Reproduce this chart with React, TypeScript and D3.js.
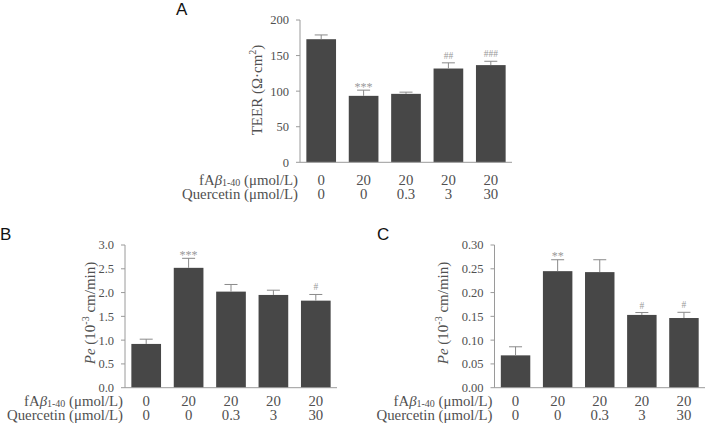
import React from "react";
import * as d3 from "d3";

const fabLabels = ["0", "20", "20", "20", "20"];
const quercetinLabels = ["0", "0", "0.3", "3", "30"];

const teerMean = [173, 93.4, 96.2, 131.8, 136.6];
const teerErr = [6, 8, 2.4, 8, 5.4];
const teerSig = ["", "***", "", "##", "###"];
const teerTicks = [0, 50, 100, 150, 200];

const peBMean = [0.92, 2.52, 2.02, 1.95, 1.83];
const peBErr = [0.1, 0.2, 0.15, 0.1, 0.13];
const peBSig = ["", "***", "", "", "#"];
const peBTicks = [0, 0.5, 1.0, 1.5, 2.0, 2.5, 3.0];

const peCMean = [0.068, 0.245, 0.243, 0.153, 0.1465];
const peCErr = [0.018, 0.024, 0.026, 0.005, 0.012];
const peCSig = ["", "**", "", "#", "#"];
const peCTicks = [0, 0.05, 0.1, 0.15, 0.2, 0.25, 0.3];

const SERIF = "'Liberation Serif', 'Times New Roman', serif";
const SANS = "'Liberation Sans', Arial, sans-serif";
const BAR = "#474747";
const AXIS = "#9a9a9a";
const ERR = "#8a8a8a";
const TXT = "#505050";
const ROWFS = 14.8;

type PanelProps = {
  x0: number; x1: number; y0: number; yTop: number;
  max: number; ticks: number[]; fmt: string;
  means: number[]; errs: number[]; sig: string[];
  ylabel: React.ReactNode; ylabelX: number; ylabelY: number;
  letter: string; letterX: number; letterY: number;
  row1: number; row2: number;
};

function Panel(p: PanelProps) {
  const x = d3.scaleBand<string>()
    .domain(p.means.map((_, i) => String(i)))
    .range([p.x0, p.x1])
    .paddingInner(0.3)
    .paddingOuter(0.15);
  const y = d3.scaleLinear().domain([0, p.max]).range([p.y0, p.yTop]);
  const f = d3.format(p.fmt);
  const bw = x.bandwidth();
  return (
    <g>
      <text x={p.letterX} y={p.letterY} fontFamily={SANS} fontSize={17} fill="#111">{p.letter}</text>
      {p.means.map((m, i) => {
        const bx = x(String(i))!;
        return <rect key={"b" + i} x={bx} y={y(m)} width={bw} height={p.y0 - y(m)} fill={BAR} />;
      })}
      {p.means.map((m, i) => {
        const cx = x(String(i))! + bw / 2;
        const top = y(m + p.errs[i]);
        return (
          <g key={"e" + i} stroke={ERR} strokeWidth={1}>
            <line x1={cx} x2={cx} y1={y(m)} y2={top} />
            <line x1={cx - 6.5} x2={cx + 6.5} y1={top} y2={top} />
          </g>
        );
      })}
      {p.sig.map((s, i) => {
        if (!s) return null;
        const cx = x(String(i))! + bw / 2;
        const top = y(p.means[i] + p.errs[i]);
        const isHash = s[0] === "#";
        return (
          <text key={"s" + i} x={cx} y={isHash ? top - 4 : top + 0.5} textAnchor="middle"
            fontFamily={SERIF} fontSize={isHash ? 9.5 : 12} fill="#999">{s}</text>
        );
      })}
      <line x1={p.x0} x2={p.x0} y1={p.yTop} y2={p.y0} stroke={AXIS} />
      <line x1={p.x0} x2={p.x1} y1={p.y0} y2={p.y0} stroke={AXIS} />
      {p.ticks.map((t, i) => (
        <g key={"t" + i}>
          <line x1={p.x0 - 4} x2={p.x0} y1={y(t)} y2={y(t)} stroke={AXIS} />
          <text x={p.x0 - 11} y={y(t)} dy="0.35em" textAnchor="end" fontFamily={SERIF} fontSize={12.5} fill={TXT}>{f(t)}</text>
        </g>
      ))}
      <text transform={`translate(${p.ylabelX},${p.ylabelY}) rotate(-90)`} textAnchor="middle"
        dominantBaseline="central" fontFamily={SERIF} fontSize={15} fill={TXT}>{p.ylabel}</text>
      <text x={p.x0 - 2} y={p.y0 + p.row1} textAnchor="end" fontFamily={SERIF} fontSize={ROWFS} fill={TXT}>
        fA<tspan fontStyle="italic">β</tspan><tspan fontSize={10} dy={1}>1-40</tspan><tspan dy={-1}> (μmol/L)</tspan>
      </text>
      <text x={p.x0 - 2} y={p.y0 + p.row2} textAnchor="end" fontFamily={SERIF} fontSize={ROWFS} fill={TXT}>Quercetin (μmol/L)</text>
      {fabLabels.map((l, i) => (
        <text key={"f" + i} x={x(String(i))! + bw / 2} y={p.y0 + p.row1} textAnchor="middle" fontFamily={SERIF} fontSize={ROWFS} fill={TXT}>{l}</text>
      ))}
      {quercetinLabels.map((l, i) => (
        <text key={"q" + i} x={x(String(i))! + bw / 2} y={p.y0 + p.row2} textAnchor="middle" fontFamily={SERIF} fontSize={ROWFS} fill={TXT}>{l}</text>
      ))}
    </g>
  );
}

const peLabel = (
  <>
    <tspan fontStyle="italic">Pe</tspan> (10<tspan fontSize={10} dy={-5}>-3</tspan><tspan dy={5}> cm/min)</tspan>
  </>
);

export default function App() {
  return (
    <svg width={710} height={426} style={{ position: "absolute", left: 0, top: 0, background: "#fff" }}>
      <Panel x0={300} x1={512} y0={162.3} yTop={20} max={200} ticks={teerTicks} fmt="d"
        means={teerMean} errs={teerErr} sig={teerSig}
        ylabel={<>TEER (Ω·cm<tspan fontSize={10} dy={-5}>2</tspan><tspan dy={5}>)</tspan></>}
        ylabelX={257} ylabelY={90} letter="A" letterX={176} letterY={15} row1={23} row2={37} />
      <Panel x0={125} x1={337} y0={387.7} yTop={245} max={3} ticks={peBTicks} fmt=".1f"
        means={peBMean} errs={peBErr} sig={peBSig} ylabel={peLabel}
        ylabelX={90} ylabelY={313} letter="B" letterX={0} letterY={240} row1={18} row2={31.8} />
      <Panel x0={494.5} x1={705} y0={387.7} yTop={245} max={0.3} ticks={peCTicks} fmt=".2f"
        means={peCMean} errs={peCErr} sig={peCSig} ylabel={peLabel}
        ylabelX={443} ylabelY={313} letter="C" letterX={377} letterY={240} row1={18.5} row2={32.3} />
    </svg>
  );
}
